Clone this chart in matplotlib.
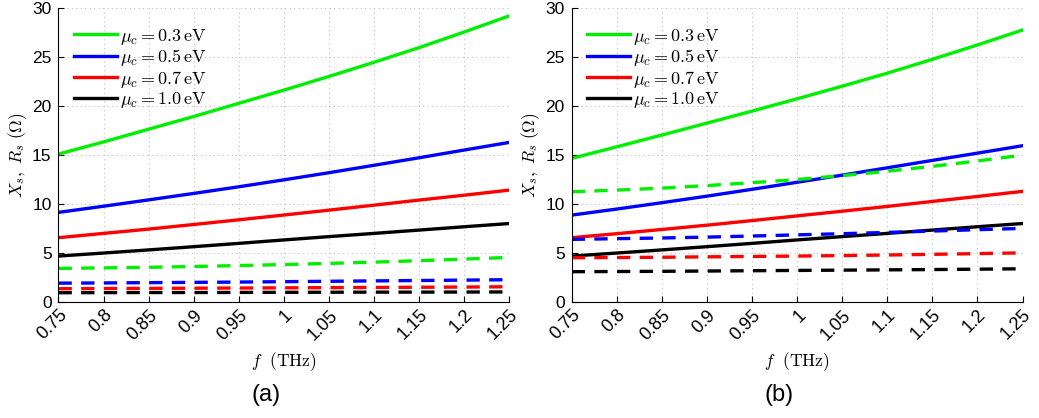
import numpy as np
import matplotlib
matplotlib.use('Agg')
import matplotlib.pyplot as plt
import matplotlib.transforms as mtransforms

plt.rcParams['font.family'] = ['Liberation Sans', 'DejaVu Sans']
plt.rcParams['mathtext.fontset'] = 'cm'

# ==============================
# Data
# ==============================
freq = [0.75, 0.8, 0.85, 0.9, 0.95, 1.0, 1.05, 1.1, 1.15, 1.2, 1.25]
freq_labels = ['0.75', '0.8', '0.85', '0.9', '0.95', '1', '1.05', '1.1', '1.15', '1.2', '1.25']
mu_labels = [r'$\mu_c = 0.3\,\mathrm{eV}$', r'$\mu_c = 0.5\,\mathrm{eV}$',
             r'$\mu_c = 0.7\,\mathrm{eV}$', r'$\mu_c = 1.0\,\mathrm{eV}$']
colors = ['#00ee00', '#0000ff', '#ff0000', '#000000']

# panel (a)
xs_a_03 = [15.1, 16.35, 17.65, 18.95, 20.3, 21.65, 23.05, 24.5, 26.0, 27.6, 29.25]
xs_a_05 = [9.14, 9.77, 10.42, 11.08, 11.76, 12.47, 13.2, 13.96, 14.73, 15.52, 16.3]
xs_a_07 = [6.55, 6.99, 7.43, 7.9, 8.38, 8.87, 9.37, 9.88, 10.4, 10.9, 11.42]
xs_a_10 = [4.67, 4.98, 5.3, 5.63, 5.97, 6.32, 6.66, 6.99, 7.33, 7.67, 8.0]
rs_a_03 = [3.41, 3.46, 3.52, 3.6, 3.7, 3.8, 3.92, 4.05, 4.2, 4.36, 4.53]
rs_a_05 = [1.9, 1.92, 1.95, 1.98, 2.01, 2.05, 2.09, 2.13, 2.17, 2.21, 2.25]
rs_a_07 = [1.33, 1.35, 1.37, 1.38, 1.4, 1.42, 1.44, 1.46, 1.48, 1.5, 1.53]
rs_a_10 = [0.92, 0.93, 0.94, 0.94, 0.95, 0.96, 0.97, 0.98, 0.98, 0.99, 1.0]

# panel (b)
xs_b_03 = [14.66, 15.85, 17.05, 18.27, 19.5, 20.76, 22.05, 23.38, 24.8, 26.27, 27.8]
xs_b_05 = [8.86, 9.48, 10.13, 10.8, 11.5, 12.22, 12.95, 13.7, 14.46, 15.2, 15.96]
xs_b_07 = [6.55, 6.96, 7.39, 7.83, 8.3, 8.78, 9.26, 9.75, 10.26, 10.77, 11.29]
xs_b_10 = [4.67, 4.98, 5.3, 5.63, 5.97, 6.32, 6.66, 6.99, 7.33, 7.67, 8.0]
rs_b_03 = [11.25, 11.42, 11.62, 11.88, 12.18, 12.5, 12.9, 13.35, 13.85, 14.4, 15.0]
rs_b_05 = [6.38, 6.45, 6.52, 6.61, 6.72, 6.84, 6.96, 7.09, 7.23, 7.37, 7.5]
rs_b_07 = [4.5, 4.52, 4.55, 4.59, 4.63, 4.67, 4.72, 4.78, 4.85, 4.92, 5.0]
rs_b_10 = [3.07, 3.09, 3.11, 3.14, 3.17, 3.2, 3.23, 3.26, 3.29, 3.33, 3.37]

panels = [
    ([xs_a_03, xs_a_05, xs_a_07, xs_a_10], [rs_a_03, rs_a_05, rs_a_07, rs_a_10], '(a)'),
    ([xs_b_03, xs_b_05, xs_b_07, xs_b_10], [rs_b_03, rs_b_05, rs_b_07, rs_b_10], '(b)'),
]

fig = plt.figure(figsize=(10.39, 4.18), dpi=100)
lefts = [0.0563, 0.5502]

for left, (xs_list, rs_list, tag) in zip(lefts, panels):
    ax = fig.add_axes([left, 0.2782, 0.434, 0.7015])
    handles = []
    for xs, col, lab in zip(xs_list, colors, mu_labels):
        h, = ax.plot(freq, xs, '-', color=col, lw=2.4, label=lab)
        handles.append(h)
    for rs, col in zip(rs_list, colors):
        ax.plot(freq, rs, '--', color=col, lw=2.4, dashes=(4.0, 2.8))

    ax.set_xlim(0.75, 1.25)
    ax.set_ylim(0, 30)
    ax.set_xticks(freq)
    ax.set_xticklabels(freq_labels, rotation=45, ha='right', va='top', rotation_mode='anchor')
    # shift rotated labels a little to the right, like the reference
    offset = mtransforms.ScaledTranslation(10 / 100, 0, fig.dpi_scale_trans)
    for lbl in ax.get_xticklabels():
        lbl.set_transform(lbl.get_transform() + offset)
    ax.set_yticks([0, 5, 10, 15, 20, 25, 30])
    ax.tick_params(direction='in', labelsize=13, length=4, width=0.8)
    ax.tick_params(axis='y', labelsize=12.5, pad=5)
    ax.spines['top'].set_visible(False)
    ax.spines['right'].set_visible(False)
    ax.grid(True, linestyle=(0, (1, 3)), color='#c0c0c0', linewidth=0.8)
    ax.set_axisbelow(True)

    ax.set_xlabel(r'$f\ \ (\mathrm{THz})$', fontsize=12.5, labelpad=5)
    ax.set_ylabel(r'$X_s,\ R_s\ (\Omega)$', fontsize=12.5, labelpad=2)

    ax.legend(handles=handles, loc='upper left', frameon=False, fontsize=13,
              handlelength=2.4, labelspacing=0.03, handletextpad=0.15,
              borderaxespad=0.2, bbox_to_anchor=(0.01, 0.975))

    fig.text(left + 0.2, 0.055, tag, ha='center', va='center', fontsize=17)

plt.savefig('out.png', dpi=100)
